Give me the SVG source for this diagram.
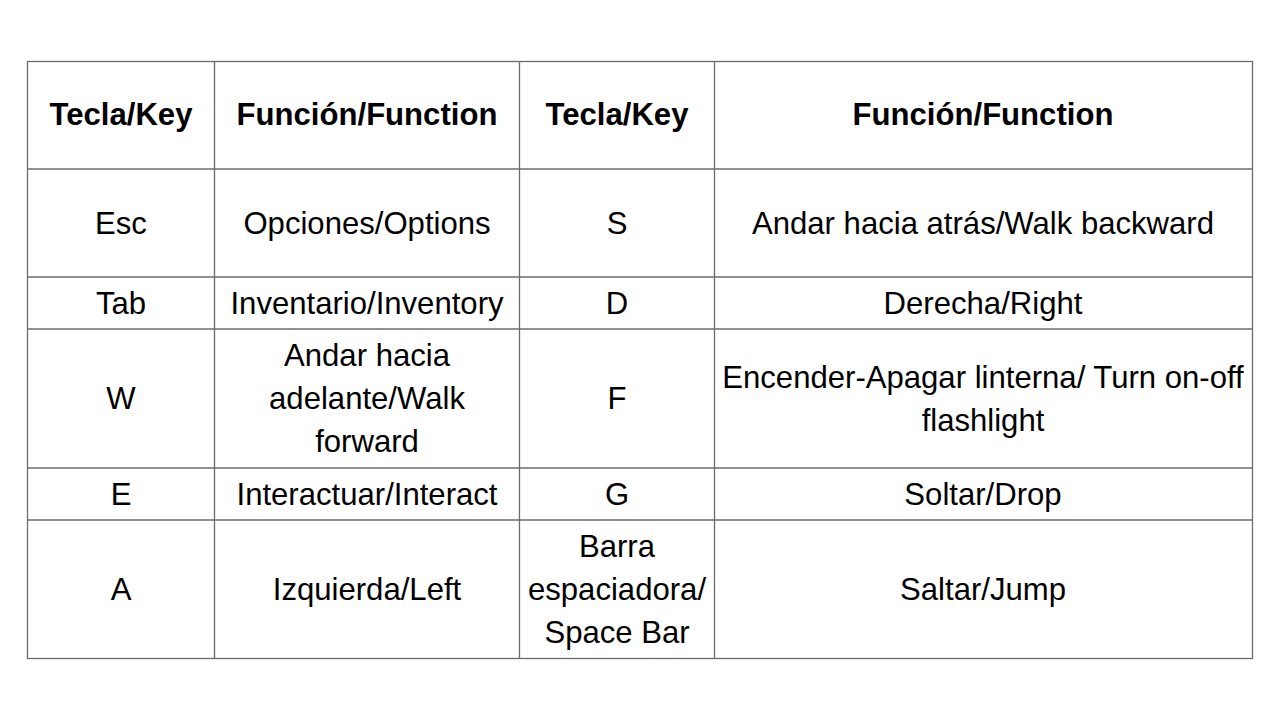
<svg xmlns="http://www.w3.org/2000/svg" width="1280" height="720" viewBox="0 0 1280 720">
<style>
.g{stroke:#6b6b6b;stroke-width:1.3;fill:none}
text{font-family:"Liberation Sans",Arial,sans-serif;font-size:31.1px;fill:#000;text-anchor:middle}
.h{font-weight:bold}
</style>
<rect width="1280" height="720" fill="#fff"/>
<g id="grid" class="g">
<rect x="27.5" y="61.5" width="1225" height="597"/>
<line x1="214.5" y1="61.5" x2="214.5" y2="658.5"/>
<line x1="519.5" y1="61.5" x2="519.5" y2="658.5"/>
<line x1="714.5" y1="61.5" x2="714.5" y2="658.5"/>
<line x1="27.5" y1="169" x2="1252.5" y2="169"/>
<line x1="27.5" y1="277" x2="1252.5" y2="277"/>
<line x1="27.5" y1="329" x2="1252.5" y2="329"/>
<line x1="27.5" y1="468" x2="1252.5" y2="468"/>
<line x1="27.5" y1="520" x2="1252.5" y2="520"/>
</g>
<g id="header">
<text class="h" x="121" y="125">Tecla/Key</text>
<text class="h" x="367" y="125">Función/Function</text>
<text class="h" x="617" y="125">Tecla/Key</text>
<text class="h" x="983" y="125">Función/Function</text>
</g>
<g id="row1">
<text x="121" y="234">Esc</text>
<text x="367" y="234">Opciones/Options</text>
<text x="617" y="234">S</text>
<text x="983" y="234">Andar hacia atrás/Walk backward</text>
</g>
<g id="row2">
<text x="121" y="314">Tab</text>
<text x="367" y="314">Inventario/Inventory</text>
<text x="617" y="314">D</text>
<text x="983" y="314">Derecha/Right</text>
</g>
<g id="row3">
<text x="121" y="409">W</text>
<text x="367" y="366">Andar hacia</text>
<text x="367" y="409">adelante/Walk</text>
<text x="367" y="452">forward</text>
<text x="617" y="409">F</text>
<text x="983" y="388">Encender-Apagar linterna/ Turn on-off</text>
<text x="983" y="431">flashlight</text>
</g>
<g id="row4">
<text x="121" y="505">E</text>
<text x="367" y="505">Interactuar/Interact</text>
<text x="617" y="505">G</text>
<text x="983" y="505">Soltar/Drop</text>
</g>
<g id="row5">
<text x="121" y="600">A</text>
<text x="367" y="600">Izquierda/Left</text>
<text x="617" y="557">Barra</text>
<text x="617" y="600">espaciadora/</text>
<text x="617" y="643">Space Bar</text>
<text x="983" y="600">Saltar/Jump</text>
</g>
</svg>
